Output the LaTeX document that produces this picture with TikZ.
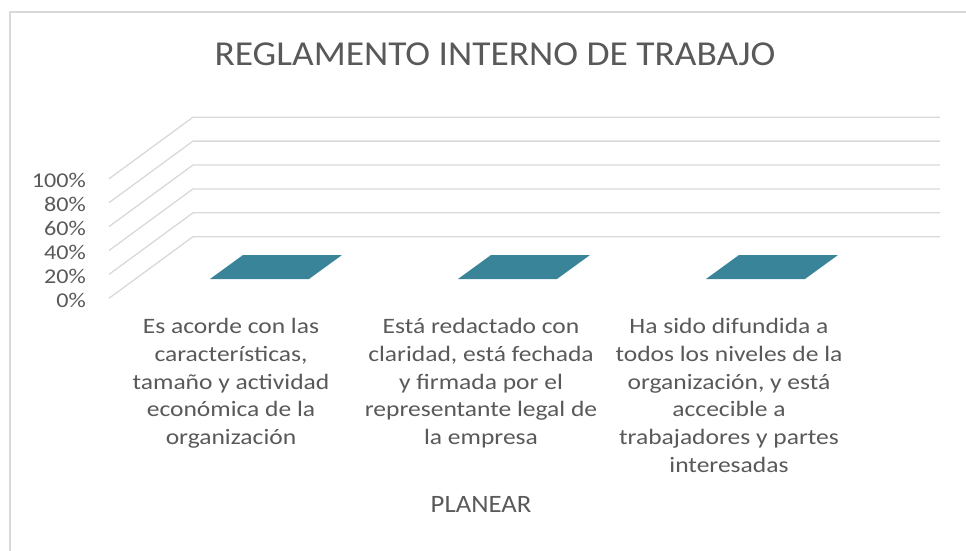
\documentclass[tikz,border=0pt]{standalone}
\usepackage{fontspec}
\setmainfont{Carlito}
\newfontfamily\titlefont[FakeStretch=1.07]{Carlito}
\newfontfamily\tickfont[FakeStretch=1.15]{Carlito}
\newfontfamily\catfont[FakeStretch=1.16]{Carlito}
\usepackage{xcolor}
\definecolor{axisgray}{RGB}{89,89,89}
\definecolor{gridgray}{RGB}{217,217,217}
\definecolor{barteal}{RGB}{58,132,153}

\begin{document}
\begin{tikzpicture}[x=1pt,y=-1pt,
  gridline/.style={gridgray,line width=1.3pt},
  ticklabel/.style={text=axisgray,font=\tickfont\fontsize{21}{24}\selectfont,anchor=east,inner sep=0pt},
  catlabel/.style={text=axisgray,font=\catfont\fontsize{22}{27.8}\selectfont,align=center,anchor=north,inner sep=0pt},
  bar/.style={fill=barteal,draw=none}]
  \useasboundingbox (0,0) rectangle (966,551);

  %% Frame and title
  \draw[gridgray,line width=1.5pt]
    (10,551) coordinate (fl) -- (10,12) coordinate (ftl) -- (966,12) coordinate (ftr);
  \node[text=axisgray,font=\titlefont\fontsize{35}{40}\selectfont,anchor=base,inner sep=0pt]
    (title) at (495,66) {REGLAMENTO INTERNO DE TRABAJO};

  %% Floor and back wall grid
  \foreach \i/\lab in {0/0\%,1/20\%,2/40\%,3/60\%,4/80\%,5/100\%}
  {
    \draw[gridline]
      (109,298.3-23.9*\i) coordinate (f\i)
      -- ++(84,-61.6) coordinate (b\i)
      -- ++(747,0) coordinate (r\i);
    \node[ticklabel] (y\i) at (86,300-23.9*\i) {\lab};
  }

  %% Bars (all at 0%)
  \foreach \c in {0,1,2}
    \fill[bar]
      (210+248*\c,279) coordinate (p\c)
      -- ++(99,0) -- ++(33,-24) -- ++(-99,0) -- cycle;

  %% Categories
  \node[catlabel] (c0) at (231,318)
    {Es acorde con las\\características,\\tamaño y actividad\\económica de la\\organización};
  \node[catlabel] (c1) at (481,318)
    {Está redactado con\\claridad, está fechada\\y firmada por el\\representante legal de\\la empresa};
  \node[catlabel] (c2) at (729,318)
    {Ha sido difundida a\\todos los niveles de la\\organización, y está\\accecible a\\trabajadores y partes\\interesadas};
  \node[text=axisgray,font=\titlefont\fontsize{25}{30}\selectfont,anchor=base,inner sep=0pt]
    (xtitle) at (481,512) {PLANEAR};
\end{tikzpicture}
\end{document}
